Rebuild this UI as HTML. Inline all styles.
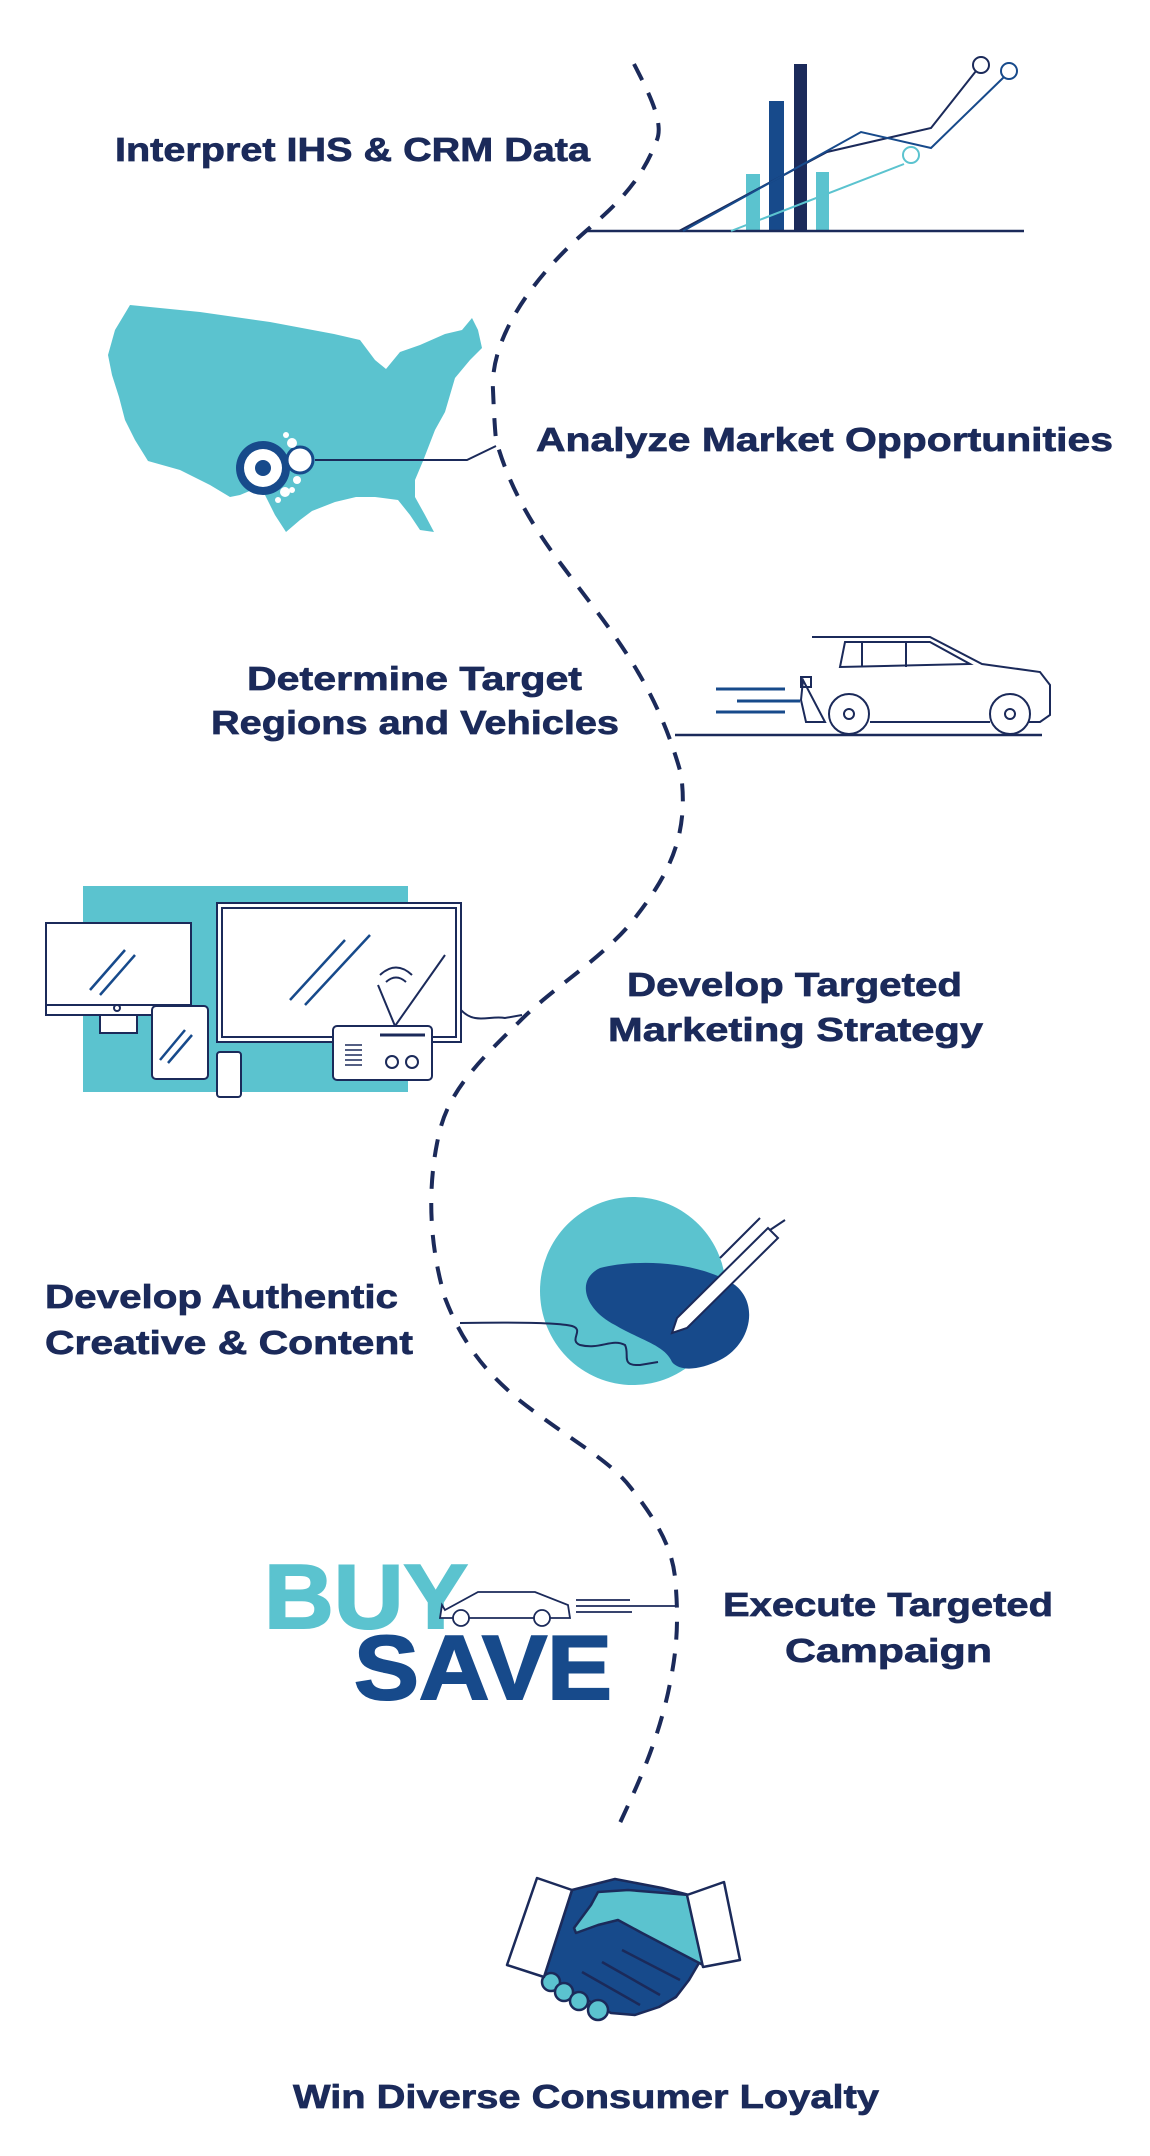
<!DOCTYPE html>
<html><head><meta charset="utf-8"><style>
html,body{margin:0;padding:0;background:#fff}
svg{display:block}
text{font-family:"Liberation Sans",Arial,sans-serif;font-weight:bold;fill:#1b2a5a;stroke:#1b2a5a;stroke-width:0.7}
</style></head><body>
<svg width="1150" height="2156" viewBox="0 0 1150 2156" xmlns="http://www.w3.org/2000/svg">
<path d="M634,64 C650,95 665,125 656,142 C640,185 610,210 586,231 C530,280 490,340 493,390 C494,415 495,430 496,440 C510,490 535,530 564,568 C610,630 655,680 681,774 C690,840 665,880 631,923 C600,960 550,990 519,1022 C480,1060 450,1090 440,1130 C430,1170 425,1230 445,1298 C465,1350 490,1375 519,1400 C570,1440 610,1460 631,1488 C660,1525 672,1550 675,1577 C680,1630 675,1660 668,1693 C655,1750 635,1790 619,1825" fill="none" stroke="#1b2a5a" stroke-width="4" stroke-dasharray="18 14"/>

<g stroke="none">
<rect x="746" y="174" width="14" height="57" fill="#5bc3cf"/>
<rect x="769" y="101" width="15" height="130" fill="#174a8b"/>
<rect x="794" y="64" width="13" height="167" fill="#1b2a5a"/>
<rect x="816" y="172" width="13" height="59" fill="#5bc3cf"/>
</g>
<line x1="586" y1="231" x2="1024" y2="231" stroke="#1b2a5a" stroke-width="2.5"/>
<polyline points="679,231 827,152 931,128 976,71" fill="none" stroke="#1b2a5a" stroke-width="2"/>
<polyline points="683,231 861,132 931,148 1004,77" fill="none" stroke="#174a8b" stroke-width="2"/>
<polyline points="731,231 904,164" fill="none" stroke="#5bc3cf" stroke-width="2"/>
<circle cx="981" cy="65" r="8" fill="#fff" stroke="#1b2a5a" stroke-width="2"/>
<circle cx="1009" cy="71" r="8" fill="#fff" stroke="#174a8b" stroke-width="2"/>
<circle cx="911" cy="155" r="8" fill="#fff" stroke="#5bc3cf" stroke-width="2"/>
<text x="115" y="161" font-size="33" textLength="475" lengthAdjust="spacingAndGlyphs">Interpret IHS &amp; CRM Data</text>

<polygon points="130,305 200,312 270,322 334,334 360,340 375,360 386,369 400,352 420,345 445,334 462,330 472,318 478,330 482,348 470,360 455,378 445,412 435,430 423,461 415,480 415,497 425,515 434,532 420,530 410,515 398,500 375,497 356,497 335,502 312,511 300,520 286,532 275,515 265,495 252,490 240,495 230,497 210,485 180,470 148,461 135,440 125,420 119,397 112,375 108,355 115,330" fill="#5bc3cf"/>
<polyline points="315,460 467,460 496,446" fill="none" stroke="#1b2a5a" stroke-width="2"/>
<circle cx="263" cy="468" r="27" fill="#174a8b"/>
<circle cx="263" cy="468" r="19" fill="#fff"/>
<circle cx="263" cy="468" r="8" fill="#174a8b"/>
<circle cx="300" cy="460" r="13" fill="#fff" stroke="#174a8b" stroke-width="3"/>
<circle cx="292" cy="443" r="5" fill="#fff"/><circle cx="286" cy="435" r="3" fill="#fff"/>
<circle cx="297" cy="480" r="4" fill="#fff"/><circle cx="285" cy="492" r="5" fill="#fff"/><circle cx="278" cy="500" r="3" fill="#fff"/><circle cx="292" cy="490" r="3" fill="#fff"/>
<text x="536" y="451" font-size="33" textLength="577" lengthAdjust="spacingAndGlyphs">Analyze Market Opportunities</text>

<text x="247" y="690" font-size="33" textLength="335" lengthAdjust="spacingAndGlyphs">Determine Target</text>
<text x="211" y="734" font-size="33" textLength="408" lengthAdjust="spacingAndGlyphs">Regions and Vehicles</text>
<line x1="675" y1="735" x2="1042" y2="735" stroke="#1b2a5a" stroke-width="2.5"/>
<g stroke="#174a8b" stroke-width="3"><line x1="716" y1="689" x2="785" y2="689"/><line x1="737" y1="701" x2="800" y2="701"/><line x1="716" y1="712" x2="785" y2="712"/></g>
<g fill="none" stroke="#1b2a5a" stroke-width="2">
<path d="M812,637 L930,637 L982,664 L1040,672 L1050,685 L1050,715 L1040,722 L1020,722 M990,722 L870,722 M825,722 L806,722 L801,700 L803,680 Z" fill="#fff"/>
<path d="M840,667 L845,642 L930,642 L970,664 Z"/>
<line x1="862" y1="642" x2="862" y2="667"/><line x1="906" y1="642" x2="906" y2="667"/>
<rect x="801" y="677" width="10" height="10"/>
<circle cx="849" cy="714" r="20" fill="#fff"/><circle cx="849" cy="714" r="5"/>
<circle cx="1010" cy="714" r="20" fill="#fff"/><circle cx="1010" cy="714" r="5"/>
</g>

<rect x="83" y="886" width="325" height="206" fill="#5bc3cf"/>
<g fill="#fff" stroke="#1b2a5a" stroke-width="2">
<rect x="46" y="923" width="145" height="92"/>
<line x1="46" y1="1005" x2="191" y2="1005"/>
<rect x="100" y="1015" width="37" height="18"/>
<rect x="217" y="903" width="244" height="139"/>
<rect x="222" y="908" width="234" height="129"/>
<rect x="152" y="1006" width="56" height="73" rx="4"/>
<rect x="217" y="1052" width="24" height="45" rx="3"/>
<rect x="333" y="1026" width="99" height="54" rx="4"/>
<circle cx="392" cy="1062" r="6"/><circle cx="412" cy="1062" r="6"/>
<circle cx="117" cy="1008" r="3"/>
</g>
<g stroke="#174a8b" stroke-width="2.5">
<line x1="90" y1="990" x2="125" y2="950"/><line x1="100" y1="995" x2="135" y2="955"/>
<line x1="290" y1="1000" x2="345" y2="940"/><line x1="305" y1="1005" x2="370" y2="935"/>
<line x1="160" y1="1060" x2="185" y2="1030"/><line x1="168" y1="1063" x2="192" y2="1035"/>
</g>
<g stroke="#1b2a5a" stroke-width="2" fill="none">
<line x1="395" y1="1026" x2="378" y2="985"/><line x1="395" y1="1026" x2="445" y2="955"/>
<path d="M380,975 Q396,960 412,975"/><path d="M386,982 Q396,973 406,982"/>
<line x1="380" y1="1035" x2="425" y2="1035" stroke-width="3"/>
<g stroke-width="1.5"><line x1="345" y1="1045" x2="362" y2="1045"/><line x1="345" y1="1050" x2="362" y2="1050"/><line x1="345" y1="1055" x2="362" y2="1055"/><line x1="345" y1="1060" x2="362" y2="1060"/><line x1="345" y1="1065" x2="362" y2="1065"/></g>
<path d="M461,1010 C475,1025 490,1015 505,1018 L522,1015"/>
</g>
<text x="627" y="996" font-size="33" textLength="335" lengthAdjust="spacingAndGlyphs">Develop Targeted</text>
<text x="608" y="1041" font-size="33" textLength="375" lengthAdjust="spacingAndGlyphs">Marketing Strategy</text>

<ellipse cx="633" cy="1291" rx="93" ry="94" fill="#5bc3cf"/>
<path d="M600,1268 C640,1258 700,1262 735,1285 C760,1305 750,1345 720,1360 C700,1370 680,1372 672,1362 C665,1345 640,1340 615,1325 C585,1310 575,1280 600,1268 Z" fill="#174a8b"/>
<path d="M460,1323 C520,1322 560,1323 572,1326 C585,1330 568,1340 580,1345 C600,1350 612,1338 625,1345 C630,1355 620,1366 640,1365 L658,1362" fill="none" stroke="#1b2a5a" stroke-width="2"/>
<g stroke="#1b2a5a" stroke-width="2" fill="#fff">
<polygon points="672,1333 677,1318 768,1228 778,1238 687,1328"/>
<line x1="720" y1="1258" x2="760" y2="1218"/>
<line x1="770" y1="1230" x2="785" y2="1220"/>
</g>
<text x="45" y="1308" font-size="33" textLength="353" lengthAdjust="spacingAndGlyphs">Develop Authentic</text>
<text x="45" y="1354" font-size="33" textLength="368" lengthAdjust="spacingAndGlyphs">Creative &amp; Content</text>

<text x="264" y="1628" font-size="91" style="fill:#5bc3cf;stroke:#5bc3cf;stroke-width:2" textLength="204" lengthAdjust="spacingAndGlyphs">BUY</text>
<text x="354" y="1699" font-size="91" style="fill:#174a8b;stroke:#174a8b;stroke-width:2" textLength="258" lengthAdjust="spacingAndGlyphs">SAVE</text>
<g fill="none" stroke="#1b2a5a" stroke-width="1.8">
<path d="M445,1610 L478,1592 L535,1592 L568,1605 L570,1618 L440,1618 L442,1605 Z" fill="#fff"/>
<circle cx="461" cy="1618" r="8" fill="#fff"/><circle cx="542" cy="1618" r="8" fill="#fff"/>
<line x1="576" y1="1600" x2="630" y2="1600"/><line x1="576" y1="1606" x2="676" y2="1606"/><line x1="576" y1="1612" x2="632" y2="1612"/>
</g>
<text x="723" y="1616" font-size="33" textLength="330" lengthAdjust="spacingAndGlyphs">Execute Targeted</text>
<text x="785" y="1662" font-size="33" textLength="207" lengthAdjust="spacingAndGlyphs">Campaign</text>

<g stroke="#1b2a5a" stroke-width="2.5" stroke-linejoin="round">
<polygon points="572,1890 615,1879 662,1888 689,1895 699,1963 689,1980 676,1997 659,2007 635,2015 611,2013 544,1977" fill="#174a8b"/>
<polygon points="598,1892 628,1890 689,1895 703,1965 642,1933 618,1920 598,1925 576,1933 574,1928 591,1905" fill="#5bc3cf"/>
<circle cx="551" cy="1982" r="9" fill="#5bc3cf"/><circle cx="564" cy="1992" r="9" fill="#5bc3cf"/><circle cx="579" cy="2001" r="9" fill="#5bc3cf"/><circle cx="598" cy="2010" r="10" fill="#5bc3cf"/>
<polygon points="537,1878 572,1890 544,1977 507,1965" fill="#fff"/>
<polygon points="687,1895 724,1882 740,1960 703,1967" fill="#fff"/>
<line x1="622" y1="1950" x2="680" y2="1980"/><line x1="602" y1="1962" x2="660" y2="1995"/><line x1="582" y1="1972" x2="640" y2="2005"/>
</g>
<text x="293" y="2108" font-size="33" textLength="586" lengthAdjust="spacingAndGlyphs">Win Diverse Consumer Loyalty</text>
</svg>
</body></html>
